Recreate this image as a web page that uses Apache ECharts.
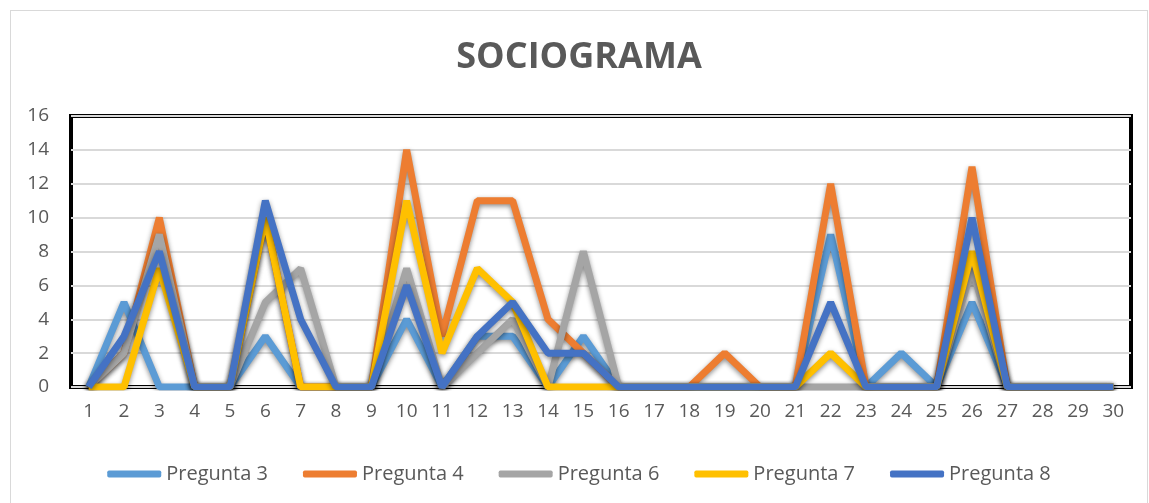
<!DOCTYPE html>
<html>
<head>
<meta charset="utf-8">
<script src="https://cdn.jsdelivr.net/npm/echarts@6/dist/echarts.min.js"></script>
<style>
  html, body { margin: 0; padding: 0; background: #fff; }
  #main { position: absolute; left: 10px; top: 10px; width: 1138px; height: 500px; border: 1px solid #d9d9d9; box-sizing: border-box; }
</style>
</head>
<body>
<div id="main"></div>
<script>
  // categorias 1..30
  var categorias = ['1','2','3','4','5','6','7','8','9','10','11','12','13','14','15','16','17','18','19','20','21','22','23','24','25','26','27','28','29','30'];
  var pregunta3 = [0,5,0,0,0,3,0,0,0,4,0,3,3,0,3,0,0,0,0,0,0,9,0,2,0,5,0,0,0,0];
  var pregunta4 = [0,2,10,0,0,10,0,0,0,14,3,11,11,4,2,0,0,0,2,0,0,12,0,0,0,13,0,0,0,0];
  var pregunta6 = [0,2,9,0,0,5,7,0,0,7,0,2,4,0,8,0,0,0,0,0,0,0,0,0,0,7,0,0,0,0];
  var pregunta7 = [0,0,7,0,0,10,0,0,0,11,2,7,5,0,0,0,0,0,0,0,0,2,0,0,0,8,0,0,0,0];
  var pregunta8 = [0,3,8,0,0,11,4,0,0,6,0,3,5,2,2,0,0,0,0,0,0,5,0,0,0,10,0,0,0,0];

  var fuente = '"Open Sans", sans-serif';
  var colores = ['#5B9BD5', '#ED7D31', '#A5A5A5', '#FFC000', '#4472C4'];

  function serie(nombre, datos, color) {
    return {
      name: nombre,
      type: 'line',
      data: datos,
      symbol: 'none',
      lineStyle: {
        width: 7,
        color: color,
        shadowColor: 'rgba(0,0,0,0.45)',
        shadowBlur: 5,
        shadowOffsetY: 2
      },
      itemStyle: { color: color }
    };
  }

  var myChart = echarts.init(document.getElementById('main'));
  myChart.setOption({
    backgroundColor: '#fff',
    animation: false,
    title: {
      text: 'SOCIOGRAMA',
      left: 'center',
      top: 24,
      textStyle: { fontFamily: fuente, fontSize: 36, fontWeight: 'bold', color: '#595959' }
    },
    legend: {
      top: 448,
      left: 'center',
      itemWidth: 54,
      itemHeight: 7,
      itemGap: 35,
      icon: 'roundRect',
      textStyle: { fontFamily: fuente, fontSize: 20, color: '#595959' },
      data: ['Pregunta 3', 'Pregunta 4', 'Pregunta 6', 'Pregunta 7', 'Pregunta 8']
    },
    grid: {
      left: 60,
      right: 16,
      top: 105,
      bottom: 122,
      show: true,
      borderColor: '#000',
      borderWidth: 4
    },
    xAxis: {
      type: 'category',
      data: categorias,
      boundaryGap: true,
      axisLine: { show: false },
      axisTick: { show: false },
      axisLabel: { fontFamily: fuente, fontSize: 19, color: '#595959', margin: 15 }
    },
    yAxis: {
      type: 'value',
      min: 0,
      max: 16,
      interval: 2,
      axisLine: { show: false },
      axisTick: { show: false },
      splitLine: { lineStyle: { color: '#d9d9d9', width: 2 } },
      axisLabel: { fontFamily: fuente, fontSize: 19, color: '#595959', margin: 22 }
    },
    series: [
      serie('Pregunta 3', pregunta3, colores[0]),
      serie('Pregunta 4', pregunta4, colores[1]),
      serie('Pregunta 6', pregunta6, colores[2]),
      serie('Pregunta 7', pregunta7, colores[3]),
      serie('Pregunta 8', pregunta8, colores[4])
    ]
  });
</script>
</body>
</html>
